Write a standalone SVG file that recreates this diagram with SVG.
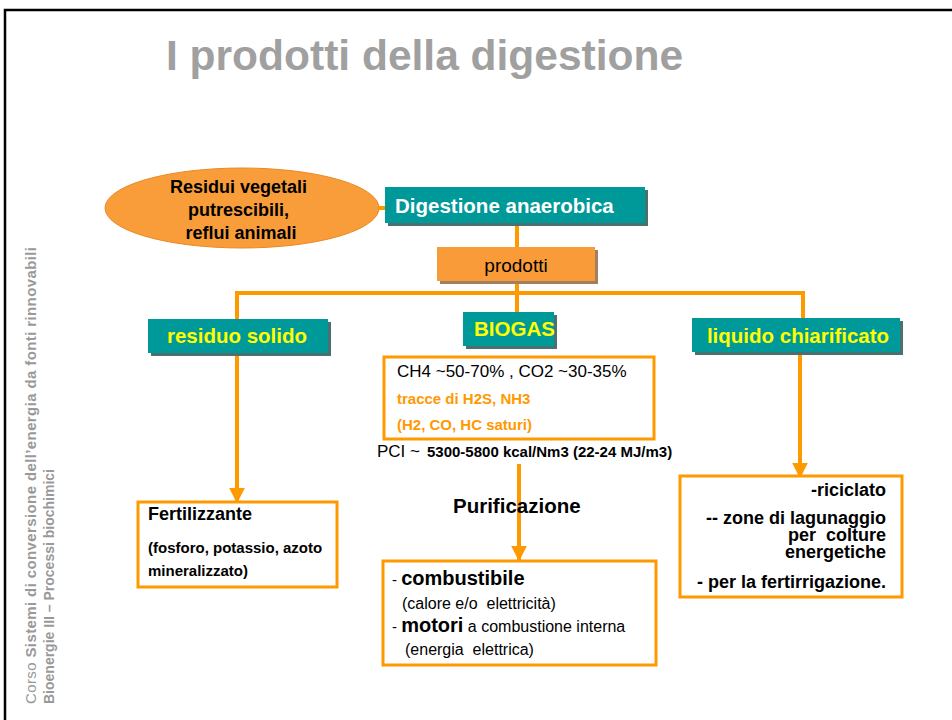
<svg xmlns="http://www.w3.org/2000/svg" width="952" height="720" viewBox="0 0 952 720">
<defs>
<style>
.t{font-family:"Liberation Sans",Arial,sans-serif}
.b{font-weight:bold}
.pre{white-space:pre}
.teal{fill:#009999}
.tsh{fill:#4a7070}
.yel{fill:#FFFF00;font-family:"Liberation Sans",Arial,sans-serif;font-weight:bold;font-size:20.5px}
.con{stroke:#FF9900;stroke-width:4;fill:none}
.obox{fill:#ffffff;stroke:#FF9900;stroke-width:3}
</style>
<marker id="ah" viewBox="0 0 10 10" refX="9" refY="5" markerWidth="4" markerHeight="4" orient="auto" markerUnits="strokeWidth">
<path d="M0,0 L10,5 L0,10 z" fill="#FF9900"/>
</marker>
</defs>
<rect x="0" y="0" width="952" height="720" fill="#ffffff"/>
<path d="M5,720 L5,10 L952,10" fill="none" stroke="#000000" stroke-width="2.5"/>

<text class="t b" x="166" y="70" font-size="42.5" fill="#A0A0A0">I prodotti della digestione</text>

<g transform="translate(36,704) rotate(-90)" class="t" font-size="15" fill="#999999">
<text x="0" y="0" textLength="457"><tspan>Corso </tspan><tspan font-weight="bold">Sistemi di conversione dell’energia da fonti rinnovabili</tspan></text>
<text x="0" y="18" font-size="14" font-weight="bold">Bioenergie III – Processi biochimici</text>
</g>

<g id="connectors">
<line class="con" x1="376" y1="208" x2="386" y2="208"/>
<line class="con" x1="517" y1="223" x2="517" y2="248"/>
<polyline class="con" points="237,320 237,293 803,293 803,326"/>
<line class="con" x1="517" y1="280" x2="517" y2="313"/>
<line class="con" x1="237" y1="353" x2="237" y2="502" marker-end="url(#ah)"/>
<line class="con" x1="800" y1="352" x2="800" y2="477" marker-end="url(#ah)"/>
<line class="con" x1="519" y1="464" x2="519" y2="560" marker-end="url(#ah)"/>
</g>

<g id="input">
<ellipse cx="242" cy="208" rx="137" ry="40" fill="#F99D3A" stroke="#E88A25" stroke-width="1"/>
<text class="t b" font-size="18" text-anchor="middle" fill="#000">
<tspan x="241" y="193">Residui vegetali</tspan>
<tspan x="241" y="216">putrescibili,</tspan>
<tspan x="241" y="239">reflui animali</tspan>
</text>
</g>

<g id="digestione">
<rect class="tsh" x="388" y="190" width="260" height="36"/>
<rect class="teal" x="385" y="187" width="260" height="36"/>
<text class="t b" x="395" y="213" font-size="20.5" fill="#ffffff">Digestione anaerobica</text>
</g>

<g id="prodotti">
<rect x="440" y="250" width="158" height="34" fill="#a08060"/>
<rect x="437" y="247" width="158" height="34" fill="#F99B38"/>
<text class="t" x="516" y="272" font-size="19" text-anchor="middle" fill="#000">prodotti</text>
</g>

<g id="residuo">
<rect class="tsh" x="151" y="322" width="180" height="34"/>
<rect class="teal" x="148" y="319" width="180" height="34"/>
<text class="yel" x="237" y="343" text-anchor="middle">residuo solido</text>
</g>

<g id="biogas">
<rect class="tsh" x="466" y="315" width="91" height="34"/>
<rect class="teal" x="463" y="312" width="91" height="34"/>
<text class="yel" x="474" y="336">BIOGAS</text>
</g>

<g id="liquido">
<rect class="tsh" x="695" y="321" width="208" height="34"/>
<rect class="teal" x="692" y="318" width="208" height="34"/>
<text class="yel" x="798" y="343" text-anchor="middle">liquido chiarificato</text>
</g>

<g id="biogas-info">
<rect class="obox" x="384" y="357" width="270" height="82"/>
<text class="t" x="397" y="377" font-size="17" fill="#000">CH4 ~50-70% , CO2 ~30-35%</text>
<text class="t b" x="397" y="404" font-size="15" fill="#FF9900">tracce di H2S, NH3</text>
<text class="t b" x="397" y="430" font-size="15" fill="#FF9900">(H2, CO, HC saturi)</text>
</g>

<g id="pci">
<text class="t" x="377" y="457" fill="#000"><tspan font-size="17">PCI ~ </tspan><tspan x="427" font-size="15" font-weight="bold">5300-5800 kcal/Nm3 (22-24 MJ/m3)</tspan></text>
</g>

<g id="purificazione">
<text class="t b" x="453" y="513" font-size="20.5" fill="#000">Purificazione</text>
</g>

<g id="fertilizzante">
<rect class="obox" x="138" y="502" width="199" height="85"/>
<text class="t b" x="148" y="520" font-size="18" fill="#000">Fertilizzante</text>
<text class="t b" x="148" y="553" font-size="15" fill="#000">(fosforo, potassio, azoto</text>
<text class="t b" x="148" y="576" font-size="15" fill="#000">mineralizzato)</text>
</g>

<g id="usi">
<rect class="obox" x="383" y="561" width="273" height="104"/>
<text class="t" x="392" y="585" fill="#000"><tspan font-size="15">- </tspan><tspan font-size="20" font-weight="bold">combustibile</tspan></text>
<text class="t pre" x="402" y="609" font-size="16" fill="#000">(calore e/o  elettricità)</text>
<text class="t" x="392" y="632" fill="#000"><tspan font-size="15">- </tspan><tspan font-size="20" font-weight="bold">motori</tspan><tspan font-size="16"> a combustione interna</tspan></text>
<text class="t pre" x="405" y="655" font-size="16" fill="#000">(energia  elettrica)</text>
</g>

<g id="liquido-usi">
<rect class="obox" x="680" y="476" width="222" height="121"/>
<text class="t b pre" font-size="18" text-anchor="end" fill="#000">
<tspan x="891" y="496">-riciclato</tspan>
<tspan x="891" y="524">-- zone di lagunaggio</tspan>
<tspan x="891" y="541">per  colture</tspan>
<tspan x="891" y="558">energetiche</tspan>
<tspan x="891" y="588">- per la fertirrigazione.</tspan>
</text>
</g>
</svg>
